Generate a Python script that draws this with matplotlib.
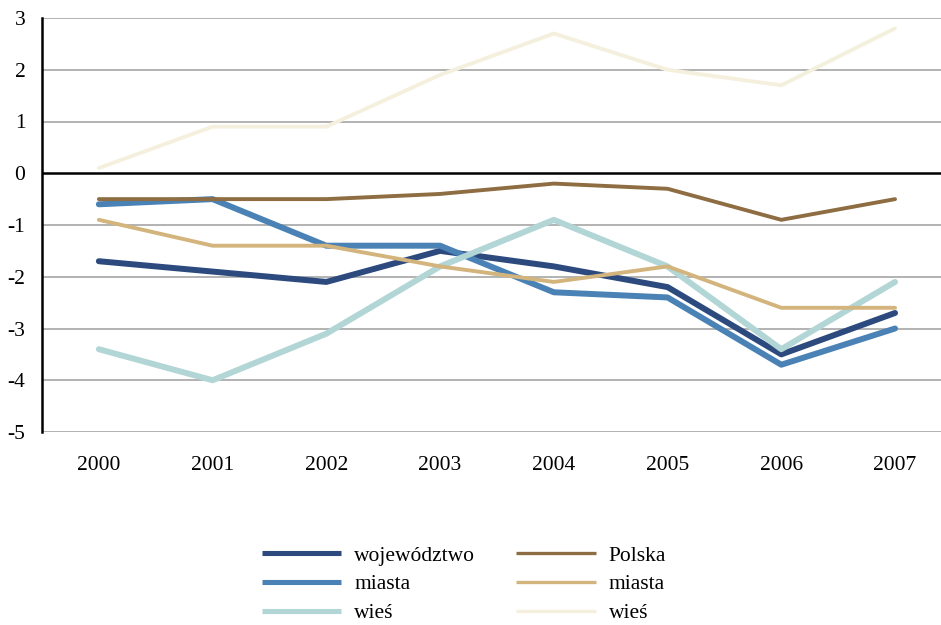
import matplotlib.pyplot as plt
from matplotlib.lines import Line2D

# --- Data ---
years = ["2000", "2001", "2002", "2003", "2004", "2005", "2006", "2007"]
wojewodztwo = [-1.7, -1.9, -2.1, -1.5, -1.8, -2.2, -3.5, -2.7]
woj_miasta = [-0.6, -0.5, -1.4, -1.4, -2.3, -2.4, -3.7, -3.0]
woj_wies = [-3.4, -4.0, -3.1, -1.8, -0.9, -1.8, -3.4, -2.1]
polska = [-0.5, -0.5, -0.5, -0.4, -0.2, -0.3, -0.9, -0.5]
pl_miasta = [-0.9, -1.4, -1.4, -1.8, -2.1, -1.8, -2.6, -2.6]
pl_wies = [0.1, 0.9, 0.9, 1.9, 2.7, 2.0, 1.7, 2.8]

plt.rcParams["font.family"] = ["Liberation Serif", "DejaVu Serif"]
plt.rcParams["axes.unicode_minus"] = False

fig = plt.figure(figsize=(9.41, 6.25), dpi=100)
ax = fig.add_axes([0.0446, 0.3088, 0.967, 0.6624])

x = list(range(len(years)))

# gridlines
for v in range(-5, 4):
    if v == 0:
        continue
    ax.axhline(v, color="#a6a6a6", lw=1.2, zorder=0)
ax.axhline(0, color="black", lw=1.8, zorder=1)

series = [
    (wojewodztwo, "#2c4a7e", 4.3, "województwo"),
    (woj_miasta, "#4a82b6", 4.3, "miasta"),
    (woj_wies, "#b2d5d5", 4.3, "wieś"),
    (polska, "#8e6d42", 2.8, "Polska"),
    (pl_miasta, "#d3b47c", 2.8, "miasta"),
    (pl_wies, "#f5f0de", 2.8, "wieś"),
]
handles = []
for vals, col, lw, lab in series:
    ax.plot(x, vals, color=col, lw=lw, solid_capstyle="round")
    handles.append(Line2D([], [], color=col, lw=lw * 0.85, label=lab, solid_capstyle="butt"))

ax.set_xlim(-0.5, 7.5)
ax.set_ylim(-5, 3)
ax.set_yticks(range(-5, 4))
ax.set_xticks(x)
ax.set_xticklabels(years)
ax.tick_params(axis="both", length=0, labelsize=15.5)
ax.tick_params(axis="y", pad=12)
ax.tick_params(axis="x", pad=17)
for s in ["top", "right", "bottom"]:
    ax.spines[s].set_visible(False)
ax.spines["left"].set_linewidth(1.8)
ax.spines["left"].set_color("black")

fig.legend(handles=handles, ncol=2, frameon=False,
           loc="center", bbox_to_anchor=(0.493, 0.065), fontsize=15.5,
           handlelength=3.7, handletextpad=0.6, columnspacing=1.9,
           labelspacing=0.4)

fig.savefig("out.png", dpi=100)
